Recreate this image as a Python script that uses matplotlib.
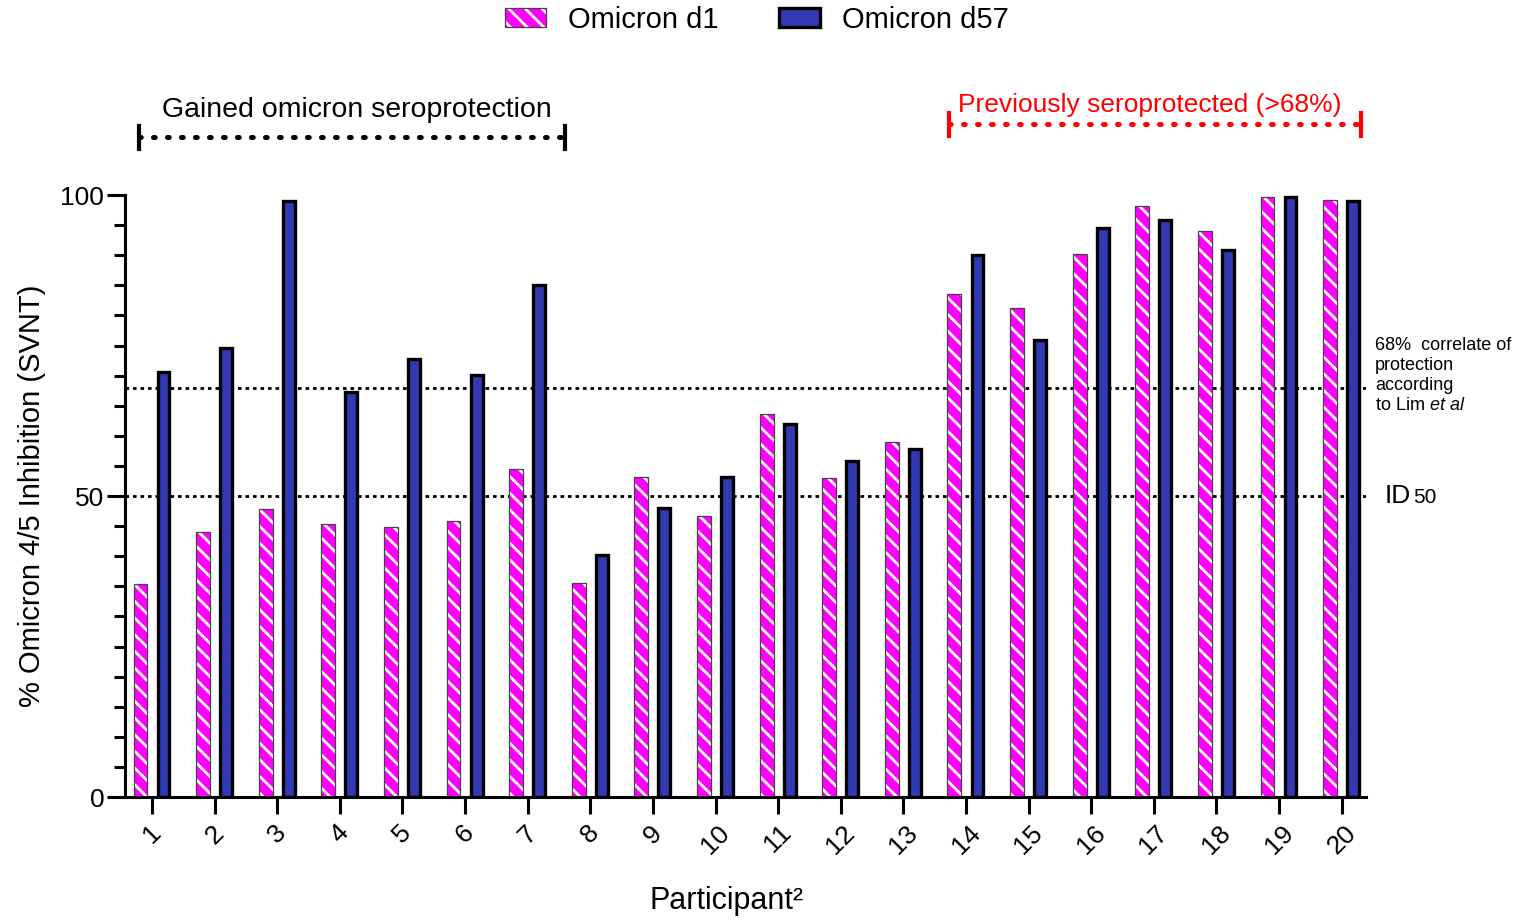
import numpy as np
import matplotlib
matplotlib.use("Agg")
import matplotlib.pyplot as plt
from matplotlib.patches import Patch

plt.rcParams["font.family"] = ["Liberation Sans", "DejaVu Sans"]
plt.rcParams["mathtext.fontset"] = "custom"
plt.rcParams["mathtext.rm"] = "Liberation Sans"
plt.rcParams["mathtext.it"] = "Liberation Sans:italic"
plt.rcParams["hatch.linewidth"] = 2.0

participants = [str(i) for i in range(1, 21)]
omicron_d1 = [35.4, 44.0, 47.8, 45.3, 44.9, 45.8, 54.5, 35.5, 53.2, 46.7,
              63.6, 53.0, 59.0, 83.6, 81.2, 90.2, 98.2, 94.0, 99.7, 99.2]
omicron_d57 = [70.6, 74.6, 99.0, 67.3, 72.8, 70.1, 85.0, 40.2, 48.0, 53.2,
               62.0, 55.8, 57.8, 90.0, 75.9, 94.5, 95.8, 90.9, 99.7, 99.0]

pink = "#FF00FF"
blue = "#3339B3"
stripes = "\\\\"  # two backslashes -> diagonal stripes

fig = plt.figure(figsize=(15.19, 9.24), dpi=100)
ax = fig.add_axes([0.0823, 0.1374, 0.817, 0.6515])

x = np.arange(1, 21)
off = 0.184

# pink hatched bars: fill + white stripes, then a thin outline
ax.bar(x - off, omicron_d1, 0.222, color=pink, edgecolor="white",
       hatch=stripes, linewidth=0, zorder=2)
ax.bar(x - off, omicron_d1, 0.222, fill=False, edgecolor="#444444",
       linewidth=0.9, zorder=2.1)
ax.bar(x + off, omicron_d57, 0.19, color=blue, edgecolor="black",
       linewidth=2.4, zorder=2)

# reference lines
for yv in (68, 50):
    ax.axhline(yv, color="black", linewidth=2.0, dashes=(1.3, 1.4), zorder=1)

ax.set_xlim(0.569, 20.39)
ax.set_ylim(0, 100)
ax.spines["top"].set_visible(False)
ax.spines["right"].set_visible(False)
for s in ("left", "bottom"):
    ax.spines[s].set_linewidth(2.2)

ax.set_yticks([0, 50, 100])
ax.set_yticks(np.arange(0, 101, 5), minor=True)
ax.tick_params(axis="y", which="major", length=13, width=2.2, labelsize=19, pad=2)
ax.tick_params(axis="y", which="minor", length=8, width=2.2)
ax.set_xticks(x)
ax.set_xticklabels(participants, rotation=45, fontsize=19)
ax.tick_params(axis="x", length=12, width=2.2, pad=5)

ax.set_ylabel("% Omicron 4/5 Inhibition (SVNT)", fontsize=21, labelpad=10)
ax.set_xlabel("Participant²", fontsize=22)
ax.xaxis.set_label_coords(0.485, -0.148)

# brackets above the plot
ax.plot([0.79, 7.6], [109.6, 109.6], color="black", linewidth=3.6,
        dashes=(0.35, 2.45), dash_capstyle="round", clip_on=False)
for xe in (0.79, 7.6):
    ax.plot([xe, xe], [107.6, 111.5], color="black", linewidth=3.0, clip_on=False)
ax.text(4.28, 113.0, "Gained omicron seroprotection", fontsize=20.5,
        ha="center", va="baseline")

ax.plot([13.73, 20.31], [111.8, 111.8], color="red", linewidth=3.6,
        dashes=(0.35, 2.45), dash_capstyle="round", clip_on=False)
for xe in (13.73, 20.31):
    ax.plot([xe, xe], [109.8, 113.6], color="red", linewidth=3.0, clip_on=False)
ax.text(16.94, 113.8, "Previously seroprotected (>68%)", fontsize=19,
        color="red", ha="center", va="baseline")

# right-hand notes
fig.text(1375 / 1519, 1 - 337 / 924,
         "68%  correlate of\nprotection\naccording\nto Lim $\\mathit{et\\ al}$",
         fontsize=13, ha="left", va="top", linespacing=1.22)
fig.text(1385 / 1519, 1 - 503 / 924, "ID", fontsize=19, ha="left", va="baseline")
fig.text(1413 / 1519, 1 - 503 / 924, "50", fontsize=15, ha="left", va="baseline")

handles = [(Patch(facecolor=pink, edgecolor="white", hatch=stripes, linewidth=0),
            Patch(facecolor="none", edgecolor="#444444", linewidth=0.9)),
           Patch(facecolor=blue, edgecolor="black", linewidth=2.4)]
fig.legend(handles, ["Omicron d1", "Omicron d57"], loc="upper center",
           bbox_to_anchor=(757 / 1519, 1.022), ncol=2, frameon=False,
           fontsize=21, handlelength=1.4, handleheight=0.65,
           handletextpad=0.75, columnspacing=2.1)

fig.savefig("out.png", dpi=100)
